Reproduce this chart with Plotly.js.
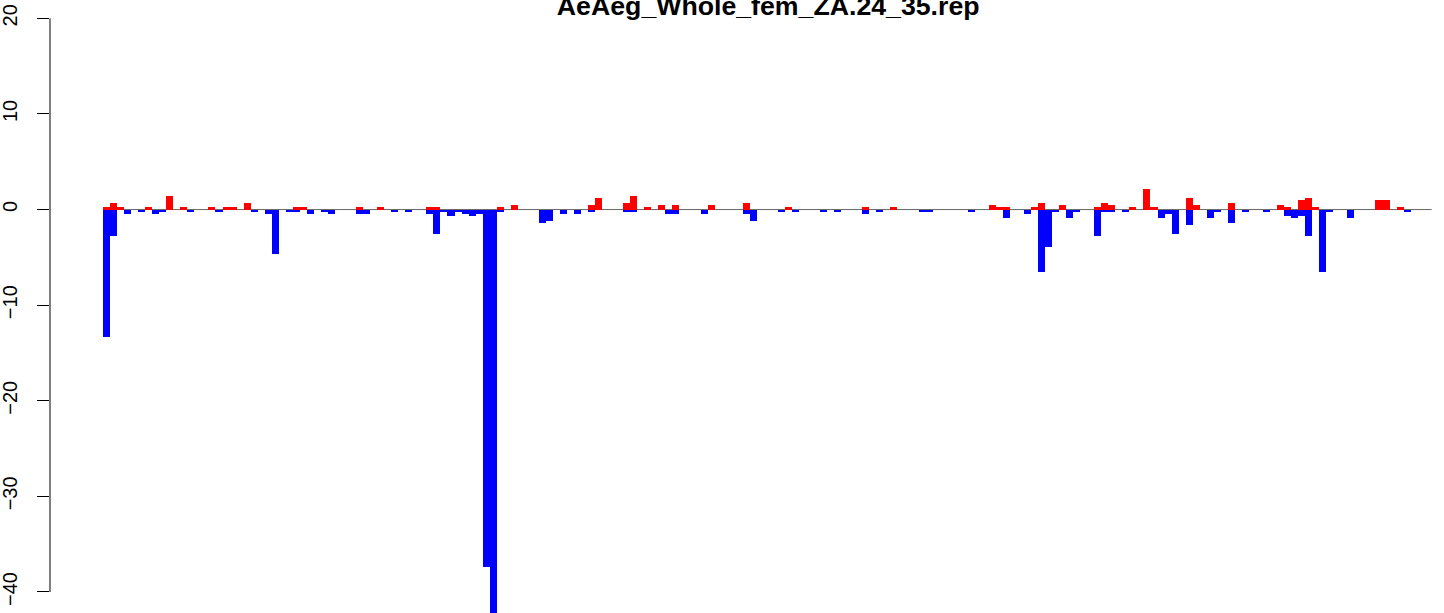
<!DOCTYPE html>
<html>
<head>
<meta charset="utf-8">
<script src="https://cdn.plot.ly/plotly-3.0.1.min.js"></script>
<style>html,body{margin:0;padding:0;background:#fff;}#chart{width:1444px;height:613px;}</style>
</head>
<body>
<div id="chart"></div>
<script>
// Chart title
const chartTitle = "AeAeg_Whole_fem_ZA.24_35.rep";

// Positive (red) values, one per bin
const upValues = [
  0.24,0.66,0.24,0,0,0,0.24,0,0,1.4,0,0.24,0,0,0,0.24,0,0.24,0.24,0,
  0.66,0,0,0,0,0,0,0.24,0.24,0,0,0,0,0,0,0,0.24,0,0,0.24,
  0,0,0,0,0,0,0.24,0.24,0,0,0,0,0,0,0,0,0.24,0,0.45,0,
  0,0,0,0,0,0,0,0,0,0.45,1.19,0,0,0,0.66,1.4,0,0.24,0,0.45,
  0,0.45,0,0,0,0,0.45,0,0,0,0,0.66,0,0,0,0,0,0.24,0,0,
  0,0,0,0,0,0,0,0,0.24,0,0,0,0.24,0,0,0,0,0,0,0,
  0,0,0,0,0,0,0.45,0.24,0.24,0,0,0,0.24,0.66,0,0,0.45,0,0,0,
  0,0.24,0.66,0.45,0,0,0.24,0,2.13,0.24,0,0,0,0,1.19,0.45,0,0,0,0,
  0.66,0,0,0,0,0,0,0.45,0.24,0,0.98,1.19,0.24,0,0,0,0,0,0,0,
  0,0.98,0.98,0,0.24,0,0,0,0
];

// Negative (blue) values, one per bin
const downValues = [
  -13.3,-2.8,0,-0.49,0,-0.28,0,-0.49,-0.28,0,0,0,-0.28,0,0,0,-0.28,0,0,0,
  0,-0.28,0,-0.49,-4.7,0,-0.28,-0.28,0,-0.49,0,-0.28,-0.49,0,0,0,-0.49,-0.49,0,0,
  0,-0.28,0,-0.28,0,0,-0.49,-2.58,-0.28,-0.7,-0.28,-0.49,-0.7,-0.49,-37.4,-44,-0.28,0,0,0,
  0,0,-1.43,-1.22,0,-0.49,0,-0.49,0,-0.28,0,0,0,0,-0.28,-0.28,0,0,0,0,
  -0.49,-0.49,0,0,0,-0.49,0,0,0,0,0,-0.49,-1.22,0,0,0,-0.28,0,-0.28,0,
  0,0,-0.28,0,-0.28,0,0,0,-0.49,0,-0.28,0,0,0,0,0,-0.28,-0.28,0,0,
  0,0,0,-0.28,0,0,0,0,-0.91,0,0,-0.49,0,-6.5,-3.94,-0.28,0,-0.91,-0.28,0,
  0,-2.79,-0.28,-0.28,0,-0.28,0,0,0,0,-0.91,-0.49,-2.58,0,-1.64,0,0,-0.91,-0.28,0,
  -1.43,0,-0.28,0,0,-0.28,0,0,-0.7,-0.91,-0.7,-2.79,0,-6.5,-0.28,0,0,-0.91,0,0,
  0,0,0,0,0,-0.28,0,0,0
];

// Y-axis ticks
const yTickVals = [-40, -30, -20, -10, 0, 10, 20];
const yTickText = ["\u221240", "\u221230", "\u221220", "\u221210", "0", "10", "20"];

const nBins = upValues.length;
const binCenters = upValues.map((_, i) => i + 0.5);

const font = "Liberation Sans, Arial, Helvetica, sans-serif";

const traces = [
  {type: "bar", x: binCenters, y: upValues, width: 1,
   marker: {color: "#FF0000", line: {width: 0}}, hoverinfo: "skip", showlegend: false},
  {type: "bar", x: binCenters, y: downValues, width: 1,
   marker: {color: "#0000FF", line: {width: 0}}, hoverinfo: "skip", showlegend: false}
];

const layout = {
  width: 1444, height: 613,
  margin: {l: 50, r: 0, t: 0, b: 0, pad: 0},
  paper_bgcolor: "#fff", plot_bgcolor: "#fff",
  barmode: "overlay", bargap: 0,
  showlegend: false,
  title: {text: chartTitle, font: {family: font, size: 26.7, weight: "bold", color: "#000"},
          x: 0.532, xref: "container", xanchor: "center",
          y: 0.991, yref: "container", yanchor: "middle"},
  xaxis: {range: [-7.54, 190.75], showgrid: false, zeroline: false, showline: false,
          showticklabels: false, ticks: "", fixedrange: true},
  yaxis: {range: [-42.2, 21.92], showgrid: false, zeroline: false, showline: false,
          tickmode: "array", tickvals: yTickVals, ticktext: yTickText,
          ticks: "outside", ticklen: 12, tickwidth: 1, tickcolor: "#000",
          tickangle: -90, ticklabelstandoff: 12,
          tickfont: {family: font, size: 20, color: "#000"}, fixedrange: true},
  shapes: [
    {type: "line", xref: "paper", yref: "y", x0: 0, x1: 0,
     y0: yTickVals[0], y1: yTickVals[yTickVals.length - 1],
     line: {color: "#000", width: 1}},
    {type: "line", xref: "x", yref: "y", x0: 0, x1: nBins, y0: 0, y1: 0,
     line: {color: "#666666", width: 1}, layer: "below"}
  ]
};

Plotly.newPlot("chart", traces, layout, {displayModeBar: false, staticPlot: true});
</script>
</body>
</html>
